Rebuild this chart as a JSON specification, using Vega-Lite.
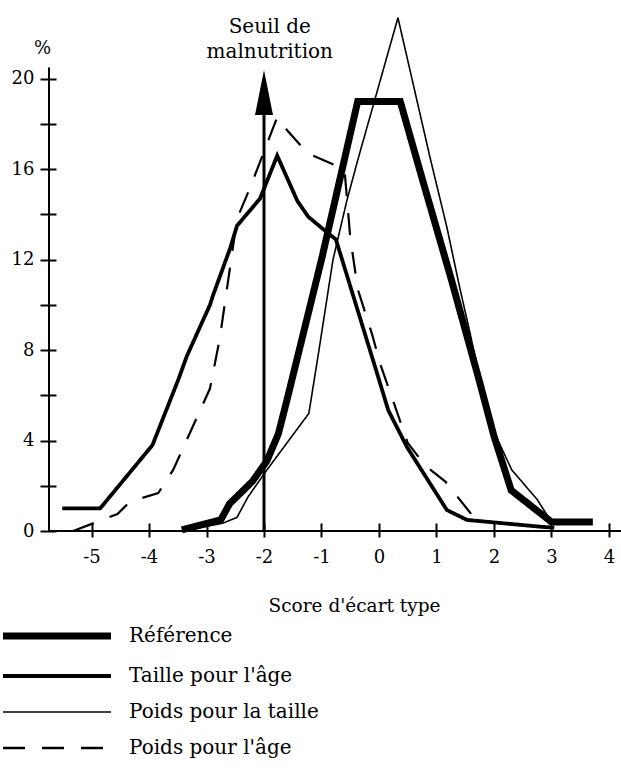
{
  "$schema": "https://vega.github.io/schema/vega-lite/v6.json",
  "width": 572,
  "height": 520,
  "autosize": {"type": "none"},
  "padding": {"left": 49, "top": 11, "right": 0, "bottom": 253},
  "background": "white",
  "config": {"view": {"stroke": null}},
  "layer": [
    {
      "data": {"values": [
        {"s": "Référence", "x": -3.43, "y": 0.05},
        {"s": "Référence", "x": -2.75, "y": 0.5},
        {"s": "Référence", "x": -2.6, "y": 1.2},
        {"s": "Référence", "x": -2.2, "y": 2.2},
        {"s": "Référence", "x": -1.95, "y": 3.1},
        {"s": "Référence", "x": -1.75, "y": 4.3},
        {"s": "Référence", "x": -1.6, "y": 5.8},
        {"s": "Référence", "x": -1.0, "y": 12.0},
        {"s": "Référence", "x": -0.37, "y": 19.0},
        {"s": "Référence", "x": 0.37, "y": 19.0},
        {"s": "Référence", "x": 0.75, "y": 15.6},
        {"s": "Référence", "x": 1.25, "y": 11.2},
        {"s": "Référence", "x": 1.75, "y": 6.6},
        {"s": "Référence", "x": 2.0, "y": 4.2},
        {"s": "Référence", "x": 2.3, "y": 1.8},
        {"s": "Référence", "x": 3.0, "y": 0.4},
        {"s": "Référence", "x": 3.72, "y": 0.4},
        {"s": "Taille pour l'âge", "x": -5.51, "y": 1.0},
        {"s": "Taille pour l'âge", "x": -4.85, "y": 1.0},
        {"s": "Taille pour l'âge", "x": -3.94, "y": 3.8},
        {"s": "Taille pour l'âge", "x": -3.49, "y": 6.7},
        {"s": "Taille pour l'âge", "x": -3.34, "y": 7.75},
        {"s": "Taille pour l'âge", "x": -2.94, "y": 10.0},
        {"s": "Taille pour l'âge", "x": -2.89, "y": 10.4},
        {"s": "Taille pour l'âge", "x": -2.59, "y": 12.5},
        {"s": "Taille pour l'âge", "x": -2.47, "y": 13.5},
        {"s": "Taille pour l'âge", "x": -2.07, "y": 14.7},
        {"s": "Taille pour l'âge", "x": -1.77, "y": 16.6},
        {"s": "Taille pour l'âge", "x": -1.42, "y": 14.6},
        {"s": "Taille pour l'âge", "x": -1.23, "y": 13.9},
        {"s": "Taille pour l'âge", "x": -0.9, "y": 13.2},
        {"s": "Taille pour l'âge", "x": -0.75, "y": 12.9},
        {"s": "Taille pour l'âge", "x": 0.0, "y": 6.7},
        {"s": "Taille pour l'âge", "x": 0.16, "y": 5.35},
        {"s": "Taille pour l'âge", "x": 0.49, "y": 3.7},
        {"s": "Taille pour l'âge", "x": 1.18, "y": 0.93},
        {"s": "Taille pour l'âge", "x": 1.53, "y": 0.49},
        {"s": "Taille pour l'âge", "x": 2.85, "y": 0.18},
        {"s": "Taille pour l'âge", "x": 3.05, "y": 0.15},
        {"s": "Poids pour la taille", "x": -3.4, "y": 0.0},
        {"s": "Poids pour la taille", "x": -2.71, "y": 0.35},
        {"s": "Poids pour la taille", "x": -2.47, "y": 0.6},
        {"s": "Poids pour la taille", "x": -2.28, "y": 1.5},
        {"s": "Poids pour la taille", "x": -1.95, "y": 2.7},
        {"s": "Poids pour la taille", "x": -1.22, "y": 5.2},
        {"s": "Poids pour la taille", "x": -1.05, "y": 7.9},
        {"s": "Poids pour la taille", "x": -0.8, "y": 12.0},
        {"s": "Poids pour la taille", "x": -0.56, "y": 14.6},
        {"s": "Poids pour la taille", "x": -0.37, "y": 16.4},
        {"s": "Poids pour la taille", "x": 0.33, "y": 22.7},
        {"s": "Poids pour la taille", "x": 0.89, "y": 16.5},
        {"s": "Poids pour la taille", "x": 1.18, "y": 13.45},
        {"s": "Poids pour la taille", "x": 1.41, "y": 10.7},
        {"s": "Poids pour la taille", "x": 1.58, "y": 8.8},
        {"s": "Poids pour la taille", "x": 1.81, "y": 6.1},
        {"s": "Poids pour la taille", "x": 1.98, "y": 4.5},
        {"s": "Poids pour la taille", "x": 2.31, "y": 2.7},
        {"s": "Poids pour la taille", "x": 2.75, "y": 1.4},
        {"s": "Poids pour la taille", "x": 3.0, "y": 0.4},
        {"s": "Poids pour l'âge", "x": -5.32, "y": 0.0},
        {"s": "Poids pour l'âge", "x": -4.55, "y": 0.75},
        {"s": "Poids pour l'âge", "x": -4.33, "y": 1.3},
        {"s": "Poids pour l'âge", "x": -3.84, "y": 1.68},
        {"s": "Poids pour l'âge", "x": -3.58, "y": 2.7},
        {"s": "Poids pour l'âge", "x": -2.94, "y": 6.3},
        {"s": "Poids pour l'âge", "x": -2.77, "y": 8.5},
        {"s": "Poids pour l'âge", "x": -2.6, "y": 11.5},
        {"s": "Poids pour l'âge", "x": -2.47, "y": 13.8},
        {"s": "Poids pour l'âge", "x": -2.24, "y": 15.2},
        {"s": "Poids pour l'âge", "x": -1.77, "y": 18.3},
        {"s": "Poids pour l'âge", "x": -1.59, "y": 17.7},
        {"s": "Poids pour l'âge", "x": -1.24, "y": 16.7},
        {"s": "Poids pour l'âge", "x": -0.6, "y": 16.0},
        {"s": "Poids pour l'âge", "x": -0.5, "y": 13.0},
        {"s": "Poids pour l'âge", "x": -0.37, "y": 10.7},
        {"s": "Poids pour l'âge", "x": -0.12, "y": 8.7},
        {"s": "Poids pour l'âge", "x": 0.02, "y": 7.4},
        {"s": "Poids pour l'âge", "x": 0.5, "y": 3.9},
        {"s": "Poids pour l'âge", "x": 0.8, "y": 2.9},
        {"s": "Poids pour l'âge", "x": 1.15, "y": 2.2},
        {"s": "Poids pour l'âge", "x": 1.62, "y": 0.7},
        {"s": "Poids pour l'âge", "x": 1.7, "y": 0.5}
      ]},
      "mark": {"type": "line", "color": "black", "clip": false},
      "encoding": {
        "x": {
          "field": "x", "type": "quantitative",
          "scale": {"domain": [-5.74, 4.21], "nice": false, "zero": false},
          "axis": {
            "values": [-5, -4.5, -4, -3.5, -3, -2.5, -2, -1.5, -1, -0.5, 0, 0.5, 1, 1.5, 2, 2.5, 3, 3.5, 4],
            "labelExpr": "datum.value % 1 === 0 ? '' + datum.value : ''",
            "domain": false, "grid": false, "offset": -8, "tickSize": 14, "tickWidth": 2, "tickColor": "black",
            "labelFont": "DejaVu Serif", "labelFontSize": 18, "labelColor": "black", "labelPadding": 11,
            "labelFlush": false, "labelOverlap": false,
            "title": "Score d'écart type", "titleFont": "DejaVu Serif", "titleFontSize": 18.5,
            "titleFontWeight": "normal", "titleColor": "black", "titleX": 305, "titleY": 82,
            "titleBaseline": "middle", "titleAlign": "center"
          }
        },
        "y": {
          "field": "y", "type": "quantitative",
          "scale": {"domain": [0, 23], "nice": false},
          "axis": {
            "values": [0, 2, 4, 6, 8, 10, 12, 14, 16, 18, 20],
            "labelExpr": "datum.value % 4 === 0 ? '' + datum.value : ''",
            "domain": false, "grid": false, "offset": -7, "tickSize": 16, "tickWidth": 2, "tickColor": "black",
            "labelFont": "DejaVu Serif", "labelFontSize": 18, "labelColor": "black", "labelPadding": 6,
            "labelFlush": false, "labelOverlap": false,
            "title": "%", "titleFont": "DejaVu Serif", "titleFontSize": 18, "titleFontWeight": "normal",
            "titleColor": "black", "titleAngle": 0, "titleX": -14, "titleY": 37,
            "titleAlign": "center", "titleBaseline": "middle"
          }
        },
        "strokeDash": {
          "field": "s", "type": "nominal",
          "scale": {
            "domain": ["Référence", "Taille pour l'âge", "Poids pour la taille", "Poids pour l'âge"],
            "range": [[1, 0], [1, 0], [1, 0], [22, 17]]
          },
          "legend": {
            "title": null, "orient": "none", "legendX": -44, "legendY": 615, "padding": 0,
            "symbolType": "M-5,0H5", "symbolSize": 467, "symbolOffset": 42, "labelOffset": 62,
            "rowPadding": 16, "symbolStrokeColor": "black",
            "labelFont": "DejaVu Serif", "labelFontSize": 20, "labelColor": "black", "labelLimit": 400,
            "encode": {
              "symbols": {
                "update": {
                  "strokeWidth": {"signal": "datum.value === 'Référence' ? 7 : datum.value === \"Taille pour l'âge\" ? 4 : datum.value === \"Poids pour l'âge\" ? 2.4 : 1.6"}
                }
              }
            }
          }
        },
        "strokeWidth": {
          "condition": [
            {"test": "datum.s === 'Référence'", "value": 7},
            {"test": "datum.s === \"Taille pour l'âge\"", "value": 3.8},
            {"test": "datum.s === \"Poids pour l'âge\"", "value": 2.2}
          ],
          "value": 1.6
        }
      }
    },
    {
      "data": {"values": [{}]},
      "mark": {"type": "rule", "color": "black", "strokeWidth": 2},
      "encoding": {"y": {"datum": 0}, "x": {"datum": -5.74}, "x2": {"datum": 4.21}}
    },
    {
      "data": {"values": [{}]},
      "mark": {"type": "rule", "color": "black", "strokeWidth": 2},
      "encoding": {"x": {"datum": -5.74}, "y": {"datum": 0}, "y2": {"datum": 20.5}}
    },
    {
      "data": {"values": [{}]},
      "mark": {"type": "rule", "color": "black", "strokeWidth": 3},
      "encoding": {"x": {"datum": -2}, "y": {"datum": 0}, "y2": {"datum": 18.6}}
    },
    {
      "data": {"values": [{}]},
      "mark": {"type": "point", "shape": "M0,-1L0.4,1L-0.4,1Z", "filled": true, "color": "black", "opacity": 1, "size": 2025},
      "encoding": {"x": {"datum": -2}, "y": {"datum": 19.4}}
    },
    {
      "data": {"values": [{}]},
      "mark": {"type": "text", "font": "DejaVu Serif", "fontSize": 20, "color": "black", "align": "center", "baseline": "alphabetic", "lineHeight": 25},
      "encoding": {"x": {"datum": -1.9}, "y": {"datum": 22.04}, "text": {"value": ["Seuil de", "malnutrition"]}}
    }
  ]
}
